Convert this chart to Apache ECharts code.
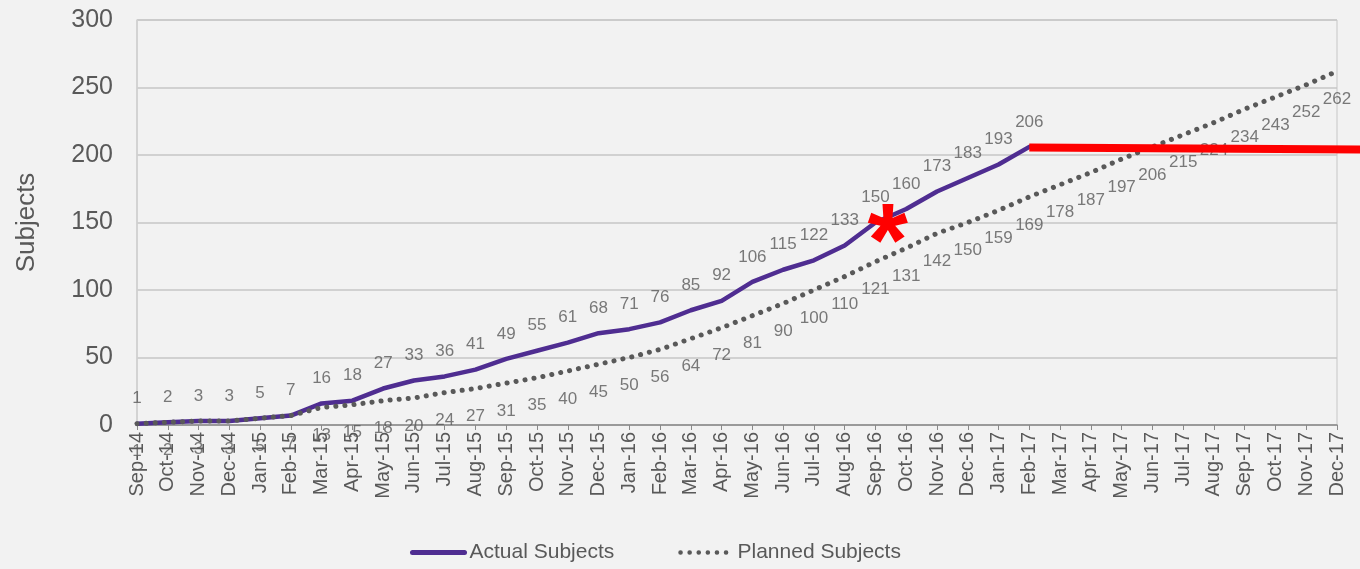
<!DOCTYPE html>
<html>
<head>
<meta charset="utf-8">
<script src="https://cdn.jsdelivr.net/npm/echarts@6/dist/echarts.min.js"></script>
<style>
  html, body { margin: 0; padding: 0; background: #f2f2f2; }
  #chart { width: 1360px; height: 569px; }
</style>
</head>
<body>
<div id="chart"></div>
<script>
// Monthly enrolment, Sep 2014 – Dec 2017
const months = [
  'Sep-14','Oct-14','Nov-14','Dec-14','Jan-15','Feb-15','Mar-15','Apr-15','May-15','Jun-15',
  'Jul-15','Aug-15','Sep-15','Oct-15','Nov-15','Dec-15','Jan-16','Feb-16','Mar-16','Apr-16',
  'May-16','Jun-16','Jul-16','Aug-16','Sep-16','Oct-16','Nov-16','Dec-16','Jan-17','Feb-17',
  'Mar-17','Apr-17','May-17','Jun-17','Jul-17','Aug-17','Sep-17','Oct-17','Nov-17','Dec-17'
];

// Cumulative subjects actually enrolled (reported through Feb-17)
const actualSubjects = [
  1, 2, 3, 3, 5, 7, 16, 18, 27, 33,
  36, 41, 49, 55, 61, 68, 71, 76, 85, 92,
  106, 115, 122, 133, 150, 160, 173, 183, 193, 206,
  null, null, null, null, null, null, null, null, null, null
];

// Cumulative subjects in the enrolment plan
const plannedSubjects = [
  1, 2, 3, 3, 5, 7, 13, 15, 18, 20,
  24, 27, 31, 35, 40, 45, 50, 56, 64, 72,
  81, 90, 100, 110, 121, 131, 142, 150, 159, 169,
  178, 187, 197, 206, 215, 224, 234, 243, 252, 262
];

// Y axis range
const yTicks = [0, 50, 100, 150, 200, 250, 300];

// Red hold line from the last actual month onward (start / Dec-17 level)
const holdLineFrom = ['Feb-17', 205.6];
const holdLineTo = ['Dec-17', 204.2];

// Red asterisk marker, placed between two months at a given level
const starFrom = ['Sep-16', 149.6];
const starTo = ['Oct-16', 149.6];
const starShare = [0.4];

const textGray = '#595959';
const fontFamily = 'Liberation Sans, Arial, sans-serif';
const actualColor = '#4f2d91';
const plannedColor = '#595959';
const plannedDash = [0.1, 9];

const chart = echarts.init(document.getElementById('chart'), null, { renderer: 'canvas' });

// Value labels are carried by transparent scatter points so the lines stay symbol-free
function labelSeries(values, position, distance) {
  return {
    type: 'scatter',
    data: values,
    symbol: 'circle',
    symbolSize: 1,
    silent: true,
    itemStyle: { color: 'rgba(0,0,0,0)' },
    label: {
      show: true, position: position, distance: distance,
      fontSize: 17, color: textGray, fontFamily: fontFamily
    },
    z: 5
  };
}

chart.setOption({
  backgroundColor: '#f2f2f2',
  animation: false,
  textStyle: { fontFamily: fontFamily, color: textGray },
  grid: {
    left: 137, right: 23, top: 20, bottom: 144,
    show: true, borderColor: '#c6c6c6', borderWidth: 1
  },
  legend: {
    left: 405, top: 537,
    itemWidth: 52, itemHeight: 14, itemGap: 64,
    itemStyle: { opacity: 0 },
    textStyle: { fontSize: 21, color: textGray, fontFamily: fontFamily },
    data: [
      { name: 'Actual Subjects', lineStyle: { width: 5, color: actualColor, cap: 'round' } },
      { name: 'Planned Subjects', lineStyle: { width: 4.5, color: plannedColor, type: plannedDash, cap: 'round' } }
    ]
  },
  xAxis: {
    type: 'category',
    data: months,
    boundaryGap: false,
    axisLine: { lineStyle: { color: '#8a8a8a', width: 1.5 } },
    axisTick: { show: true, length: 5, lineStyle: { color: '#8a8a8a' } },
    axisLabel: {
      rotate: 90, interval: 0, margin: 7,
      fontSize: 20, color: textGray, fontFamily: fontFamily
    },
    splitLine: { show: false }
  },
  yAxis: {
    type: 'value',
    min: yTicks[0], max: yTicks[yTicks.length - 1], interval: yTicks[1] - yTicks[0],
    name: 'Subjects',
    nameLocation: 'middle',
    nameRotate: 90,
    nameGap: 97,
    nameTextStyle: { fontSize: 26, color: textGray, fontFamily: fontFamily },
    axisLine: { show: true, lineStyle: { color: '#d0d0d0', width: 1.5 } },
    axisTick: { show: false },
    axisLabel: { fontSize: 25, color: textGray, margin: 24, fontFamily: fontFamily },
    splitLine: { lineStyle: { color: '#c6c6c6', width: 1.5 } }
  },
  series: [
    {
      name: 'Actual Subjects',
      type: 'line',
      data: actualSubjects,
      symbol: 'none',
      connectNulls: false,
      lineStyle: { color: actualColor, width: 4.5, cap: 'round', join: 'round' },
      itemStyle: { color: actualColor },
      z: 2
    },
    {
      name: 'Planned Subjects',
      type: 'line',
      data: plannedSubjects,
      symbol: 'none',
      lineStyle: { color: plannedColor, width: 5, type: plannedDash, cap: 'round' },
      itemStyle: { color: plannedColor },
      z: 3
    },
    labelSeries(actualSubjects, 'top', 16),
    labelSeries(plannedSubjects, 'bottom', 19)
  ]
});

// Annotations placed through the chart's own coordinate system
function drawAnnotations() {
  const toPx = v => chart.convertToPixel({ xAxisIndex: 0, yAxisIndex: 0 }, v);
  const a = toPx(holdLineFrom);
  const b = toPx(holdLineTo);
  const edgeX = chart.getWidth();
  const slope = (b[1] - a[1]) / (b[0] - a[0]);
  const edgeY = a[1] + slope * (edgeX - a[0]);

  const s0 = toPx(starFrom);
  const s1 = toPx(starTo);
  const sx = s0[0] + (s1[0] - s0[0]) * starShare[0];
  const sy = s0[1] + (s1[1] - s0[1]) * starShare[0];

  chart.setOption({
    graphic: [
      {
        type: 'line',
        z: 100,
        shape: { x1: a[0], y1: a[1], x2: edgeX, y2: edgeY },
        style: { stroke: '#ff0000', lineWidth: 8, lineCap: 'butt' }
      },
      {
        type: 'text',
        z: 101,
        x: sx, y: sy + 24,
        style: {
          text: '*',
          font: 'bold 104px ' + fontFamily,
          fill: '#ff0000',
          align: 'center',
          verticalAlign: 'middle'
        }
      }
    ]
  });
}
drawAnnotations();
</script>
</body>
</html>
